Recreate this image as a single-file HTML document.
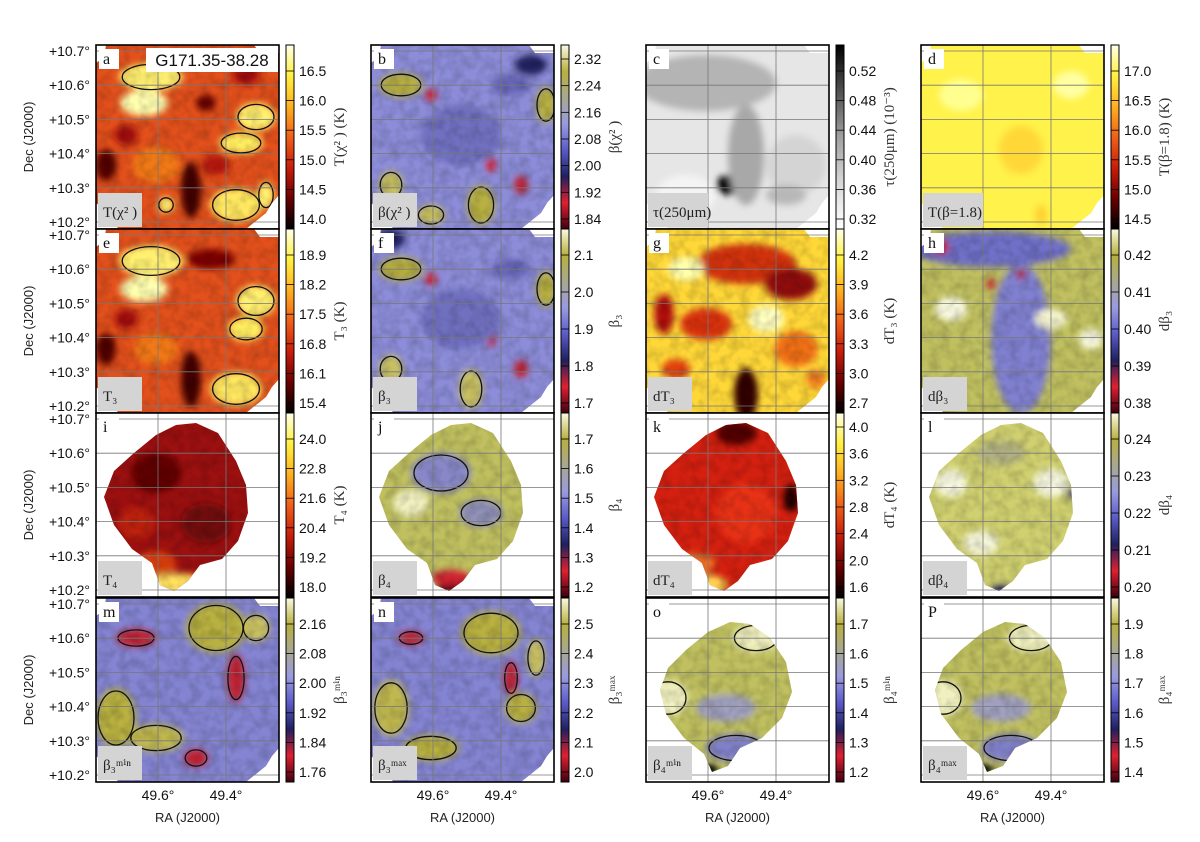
<!DOCTYPE html>
<html><head><meta charset="utf-8">
<style>
html,body{margin:0;padding:0;background:#fff;}
svg{display:block;font-family:"Liberation Sans",sans-serif;}
.serif{font-family:"Liberation Serif","DejaVu Serif",serif;}
</style></head>
<body>
<svg id="fig" width="1200" height="842" viewBox="0 0 1200 842" xmlns="http://www.w3.org/2000/svg">
<defs>
<filter id="blur" x="-30%" y="-30%" width="160%" height="160%"><feGaussianBlur stdDeviation="3.5"/></filter>
<filter id="tex" x="0" y="0" width="100%" height="100%">
<feTurbulence type="fractalNoise" baseFrequency="0.1" numOctaves="2" seed="3" result="n"/>
<feColorMatrix in="n" type="matrix" values="0 0 0 0 0  0 0 0 0 0  0 0 0 0 0  0 0 0 1.0 -0.35"/>
<feComposite in2="SourceGraphic" operator="in"/>
</filter>
</defs>
</svg>
<script>
const NS='http://www.w3.org/2000/svg';
const svg=document.getElementById('fig');
// ---- layout data ----
const colX=[96,371,646,921];
const rowY=[45,229,413,598];
const PW=183, PH=184;
const raTicks=[49.6,49.4];
const decTicks=[10.7,10.6,10.5,10.4,10.3,10.2];
// colour maps (bottom -> top)
const hot=['#000000','#6a0000','#c81e0a','#f06018','#ffb020','#fff040','#ffffe8'];
const helix=['#400010','#e02030','#202060','#5a5ac8','#9a9ae0','#a8a890','#b8b040','#fafae0'];
const grey=['#ffffff','#d8d8d8','#a0a0a0','#505050','#000000'];
// panel definitions
const letters=['a','b','c','d','e','f','g','h','i','j','k','l','m','n','o','P'];
const labels=['T(χ² )','β(χ² )','τ(250μm)','T(β=1.8)','T₃','β₃','dT₃','dβ₃','T₄','β₄','dT₄','dβ₄','β₃ᵐⁱⁿ','β₃ᵐᵃˣ','β₄ᵐⁱⁿ','β₄ᵐᵃˣ'];
const cbTitles=['T(χ² ) (K)','β(χ² )','τ(250μm) (10⁻³)','T(β=1.8) (K)','T₃ (K)','β₃','dT₃ (K)','dβ₃','T₄ (K)','β₄','dT₄ (K)','dβ₄','β₃ᵐⁱⁿ','β₃ᵐᵃˣ','β₄ᵐⁱⁿ','β₄ᵐᵃˣ'];
const cmaps=[hot,helix,grey,hot,hot,helix,hot,helix,hot,helix,hot,helix,helix,helix,helix,helix];
// colorbar tick labels (bottom -> top)
const cbTicks0=['14.0','14.5','15.0','15.5','16.0','16.5'];
const cbTicks1=['1.84','1.92','2.00','2.08','2.16','2.24','2.32'];
const cbTicks2=['0.32','0.36','0.40','0.44','0.48','0.52'];
const cbTicks3=['14.5','15.0','15.5','16.0','16.5','17.0'];
const cbTicks4=['15.4','16.1','16.8','17.5','18.2','18.9'];
const cbTicks5=['1.7','1.8','1.9','2.0','2.1'];
const cbTicks6=['2.7','3.0','3.3','3.6','3.9','4.2'];
const cbTicks7=['0.38','0.39','0.40','0.41','0.42'];
const cbTicks8=['18.0','19.2','20.4','21.6','22.8','24.0'];
const cbTicks9=['1.2','1.3','1.4','1.5','1.6','1.7'];
const cbTicks10=['1.6','2.0','2.4','2.8','3.2','3.6','4.0'];
const cbTicks11=['0.20','0.21','0.22','0.23','0.24'];
const cbTicks12=['1.76','1.84','1.92','2.00','2.08','2.16'];
const cbTicks13=['2.0','2.1','2.2','2.3','2.4','2.5'];
const cbTicks14=['1.2','1.3','1.4','1.5','1.6','1.7'];
const cbTicks15=['1.4','1.5','1.6','1.7','1.8','1.9'];
const cbTicks=[cbTicks0,cbTicks1,cbTicks2,cbTicks3,cbTicks4,cbTicks5,cbTicks6,cbTicks7,cbTicks8,cbTicks9,cbTicks10,cbTicks11,cbTicks12,cbTicks13,cbTicks14,cbTicks15];
// footprints
const fullShape=[[0,18],[8,12],[10,0],[158,0],[164,8],[183,8],[183,150],[176,158],[170,168],[150,184],[22,184],[16,170],[0,158]];
const roundShape=[[38,40],[60,22],[80,12],[100,10],[122,20],[140,48],[150,72],[152,100],[142,128],[126,146],[104,152],[92,168],[78,178],[64,172],[56,150],[36,136],[18,112],[8,84],[18,58]];
const smallRound=[[40,52],[62,34],[84,24],[104,26],[124,40],[140,64],[146,94],[136,120],[116,140],[94,150],[82,168],[66,174],[58,156],[38,140],[20,116],[14,92],[22,70]];
const shapes=[fullShape,fullShape,fullShape,fullShape,fullShape,fullShape,fullShape,fullShape,roundShape,roundShape,roundShape,roundShape,fullShape,fullShape,smallRound,smallRound];
const bases=['#e2501c','#8c8cd8','#e6e6e6','#fff24a','#e2501c','#8c8cd8','#ffd838','#c0c060','#9c1010','#c0c060','#d42010','#d0d070','#8484d2','#8484d2','#c0c060','#c0c060'];
// blobs: [cx,cy,rx,ry,color,contour]
const blobs=[
 [[55,32,32,14,'#fff070',1],[48,58,24,13,'#ffffb0',0],[160,72,20,14,'#fff070',1],[145,98,22,11,'#ffee60',1],[140,160,26,17,'#ffe860',1],[95,145,10,28,'#400000',0],[110,58,10,8,'#600000',0],[10,120,10,16,'#500000',0],[60,120,24,18,'#f07818',0],[170,150,8,14,'#fff070',1],[150,30,14,10,'#a01008',0],[30,90,12,10,'#a01008',0],[120,120,14,10,'#b01808',0],[70,160,8,8,'#fff070',1]],
 [[30,40,22,12,'#b8b040',1],[175,60,10,18,'#b8b040',1],[110,160,14,20,'#b8b040',1],[20,140,12,14,'#c8c060',1],[60,50,6,6,'#d02030',0],[120,120,5,7,'#d02030',0],[150,140,7,9,'#c02030',0],[90,90,40,30,'#7070c0',0],[160,20,16,10,'#202060',0],[140,40,20,10,'#6666b8',0],[60,170,14,10,'#c8c060',1]],
 [[60,38,70,28,'#b4b4b4'],[95,100,10,14,'#303030'],[82,140,12,10,'#111111'],[100,110,18,50,'#a8a8a8'],[40,150,30,20,'#f4f4f4'],[150,120,30,30,'#d4d4d4'],[140,150,20,10,'#b8b8b8']],
 [[40,50,22,16,'#ffff90'],[100,105,22,24,'#ffd838'],[150,40,18,14,'#ffffa0'],[120,170,6,10,'#ffd030']],
 [[55,32,32,16,'#fff070',1],[48,60,24,13,'#ffffb0',0],[160,72,20,16,'#fff070',1],[150,100,18,12,'#ffee60',1],[140,160,26,17,'#ffe860',1],[95,150,10,28,'#400000',0],[115,30,24,10,'#7a0000',0],[10,120,10,16,'#500000',0],[60,120,22,16,'#f07818',0],[30,90,12,10,'#a01008',0]],
 [[30,40,22,12,'#b8b040',1],[175,60,10,18,'#b8b040',1],[100,160,12,20,'#c8c060',1],[20,140,12,14,'#c8c060',1],[60,50,6,6,'#d02030',0],[120,110,5,7,'#d02030',0],[150,140,7,9,'#c02030',0],[90,90,40,30,'#7070c0',0],[20,10,14,10,'#202060',0],[140,40,20,10,'#6666b8',0]],
 [[100,35,50,20,'#d03010'],[145,55,26,16,'#901010'],[60,95,26,16,'#d83010'],[100,165,12,26,'#300000'],[18,85,10,20,'#b01008'],[150,120,22,18,'#f07018'],[40,40,18,12,'#ffffb0'],[120,90,18,14,'#ffffc0'],[30,140,14,10,'#e04010'],[170,150,10,10,'#f08020']],
 [[70,20,80,18,'#7070c8'],[100,110,30,75,'#8080d0'],[30,80,16,12,'#f8f8e0'],[130,90,16,10,'#f4f4d0'],[170,110,12,10,'#f8f8e0'],[20,18,8,8,'#c02030'],[70,55,5,5,'#c02030'],[100,45,5,5,'#c02030']],
 [[80,172,30,12,'#ffe060'],[60,150,20,12,'#e04010'],[60,60,25,20,'#600000'],[110,110,25,20,'#700808'],[40,110,18,16,'#c02010']],
 [[70,60,30,20,'#8888c8',1],[110,100,22,14,'#9090b8',1],[80,175,14,8,'#300010',0],[80,165,20,8,'#d02030',0],[40,90,18,14,'#f0f0c0',0]],
 [[50,172,32,12,'#ffd050'],[50,150,20,10,'#f07020'],[90,20,20,12,'#500000'],[145,85,8,14,'#200000'],[100,100,30,30,'#e83018']],
 [[30,70,16,14,'#f8f8e0'],[130,70,18,14,'#f8f8e0'],[60,130,18,12,'#f4f4d8'],[80,178,10,6,'#202060'],[150,80,4,6,'#202060'],[80,40,24,12,'#b0b080']],
 [[120,30,30,25,'#b8b040',1],[20,120,20,30,'#b8b040',1],[60,140,28,14,'#c0b850',1],[140,80,9,24,'#c02030',1],[40,40,20,9,'#c02030',1],[160,30,14,14,'#c8c060',1],[100,160,12,9,'#c02030',1]],
 [[120,35,30,22,'#b8b040',1],[20,110,18,28,'#c0b850',1],[60,150,28,13,'#b8b040',1],[150,110,16,15,'#b8b040',1],[140,80,7,17,'#c02030',1],[40,40,13,7,'#c02030',1],[165,60,9,19,'#c8c060',1]],
 [[90,150,30,14,'#8080c8',1],[62,172,10,6,'#000000',0],[22,100,20,18,'#f0f0c0',1],[110,40,24,14,'#f0f0c0',1],[80,110,30,14,'#a0a0c0',0]],
 [[90,150,30,14,'#8080c8',1],[62,172,10,6,'#000000',0],[22,100,20,18,'#f0f0c0',1],[110,40,24,14,'#f0f0c0',1],[80,110,30,14,'#a0a0c0',0]]
];
// ---- helpers ----
function mk(tag,attrs,parent){const e=document.createElementNS(NS,tag);for(const k in attrs)e.setAttribute(k,attrs[k]);(parent||svg).appendChild(e);return e;}
function raX(x0,ra){return x0+62+(49.6-ra)*340;}
function decY(y0,dec){return y0+177-(dec-10.2)*342;}
const defs=svg.querySelector('defs');

for(let i=0;i<16;i++){
  const r=Math.floor(i/4), c=i%4, x0=colX[c], y0=rowY[r];
  const g=mk('g',{});
  
  
  const cp=mk('clipPath',{id:'cp'+i},defs);
  mk('rect',{x:x0,y:y0,width:PW,height:PH},cp);
  const inner=mk('g',{'clip-path':'url(#cp'+i+')'},g);
  mk('rect',{x:x0,y:y0,width:PW,height:PH,fill:'#fff'},inner);
  const pts=shapes[i].map(p=>(x0+p[0])+','+(y0+p[1])).join(' ');
  const fcp=mk('clipPath',{id:'fp'+i},defs);
  mk('polygon',{points:pts},fcp);
  const map=mk('g',{'clip-path':'url(#fp'+i+')'},inner);
  
  
  mk('rect',{x:x0,y:y0,width:PW,height:PH,fill:bases[i]},map);
  const bg=mk('g',{filter:'url(#blur)'},map);
  blobs[i].forEach(b=>{
    const e=mk('ellipse',{cx:x0+b[0],cy:y0+b[1],rx:b[2],ry:b[3],fill:b[4]},bg);
    
    
  });
  if(i!==2&&i!==3){
    mk('rect',{x:x0,y:y0,width:PW,height:PH,fill:'#000',filter:'url(#tex)',opacity:0.3},map);
  }
  blobs[i].forEach(b=>{
    if(b[5]){
      const o=mk('ellipse',{cx:x0+b[0],cy:y0+b[1],rx:b[2]*0.9,ry:b[3]*0.9,fill:'none',stroke:'#111','stroke-width':1.3},map);
      
      
    }
  });
  // grid lines
  raTicks.forEach(ra=>{const l=mk('line',{x1:raX(x0,ra),x2:raX(x0,ra),y1:y0,y2:y0+PH,stroke:'#777','stroke-width':0.8},inner);
    
    });
  decTicks.forEach(d=>{const l=mk('line',{x1:x0,x2:x0+PW,y1:decY(y0,d),y2:decY(y0,d),stroke:'#777','stroke-width':0.8},inner);
    
    });
  // letter
  mk('rect',{x:x0+3,y:y0+4,width:20,height:20,fill:'#fff'},inner);
  const lt=mk('text',{x:x0+7,y:y0+19,'font-size':16,class:'serif',fill:'#111'},inner);
  lt.textContent=letters[i];
  
  
  // bottom label
  mk('rect',{x:x0+2,y:y0+148,width:(i==2||i==3)?60:44,height:34,fill:'#d4d4d4'},inner);
  const bl=mk('text',{x:x0+7,y:y0+172,'font-size':15,class:'serif',fill:'#222'},inner);
  bl.textContent=labels[i];
  
  
  if(i===0){
    mk('rect',{x:x0+50,y:y0+3,width:132,height:24,fill:'#fff'},inner);
    const st=mk('text',{x:x0+116,y:y0+21,'font-size':17,'text-anchor':'middle',fill:'#111'},inner);
    st.textContent='G171.35-38.28';
    
    
  }
  const fr=mk('rect',{x:x0,y:y0,width:PW,height:PH,fill:'none',stroke:'#000','stroke-width':1.6},g);
  
  
  // colorbar
  const cx=x0+190, cw=8;
  const gid='gr'+i;
  const lg=mk('linearGradient',{id:gid,x1:0,y1:1,x2:0,y2:0},defs);
  const cm=cmaps[i];
  cm.forEach((col,k)=>mk('stop',{offset:k/(cm.length-1),'stop-color':col},lg));
  const cb=mk('rect',{x:cx,y:y0,width:cw,height:PH,fill:'url(#'+gid+')',stroke:'#000','stroke-width':1},g);
  
  
  const tk=cbTicks[i], n=tk.length;
  const yb=y0+174, yt=y0+(n>=7?14:26);
  tk.forEach((t,k)=>{
    const yy=yb-(yb-yt)*k/(n-1);
    mk('line',{x1:cx,x2:cx+cw,y1:yy,y2:yy,stroke:'#000','stroke-width':0.8},g);
    const tt=mk('text',{x:cx+13,y:yy+5,'font-size':14,fill:'#111'},g);
    tt.textContent=t;
    
    
  });
  const ct=mk('text',{x:0,y:0,'font-size':15,class:'serif','text-anchor':'middle',fill:'#333',transform:'translate('+(cx+58)+','+(y0+PH/2)+') rotate(-90)'},g);
  ct.textContent=cbTitles[i];
  
  
  if(c===0){
    decTicks.forEach(d=>{
      const t=mk('text',{x:x0-6,y:decY(y0,d)+5,'font-size':14,'text-anchor':'end',fill:'#111'},g);
      t.textContent='+'+d.toFixed(1)+'°';
      
      
    });
    const dl=mk('text',{x:0,y:0,'font-size':13,'text-anchor':'middle',fill:'#222',transform:'translate(33,'+(y0+PH/2)+') rotate(-90)'},g);
    dl.textContent='Dec (J2000)';
    
    
  }
  if(r===3){
    raTicks.forEach(ra=>{
      const t=mk('text',{x:raX(x0,ra),y:y0+PH+18,'font-size':14,'text-anchor':'middle',fill:'#111'},g);
      t.textContent=ra.toFixed(1)+'°';
      
      
    });
    const rl=mk('text',{x:x0+PW/2,y:y0+PH+40,'font-size':13,'text-anchor':'middle',fill:'#222'},g);
    rl.textContent='RA (J2000)';
    
    
  }
}
</script>
</body></html>
